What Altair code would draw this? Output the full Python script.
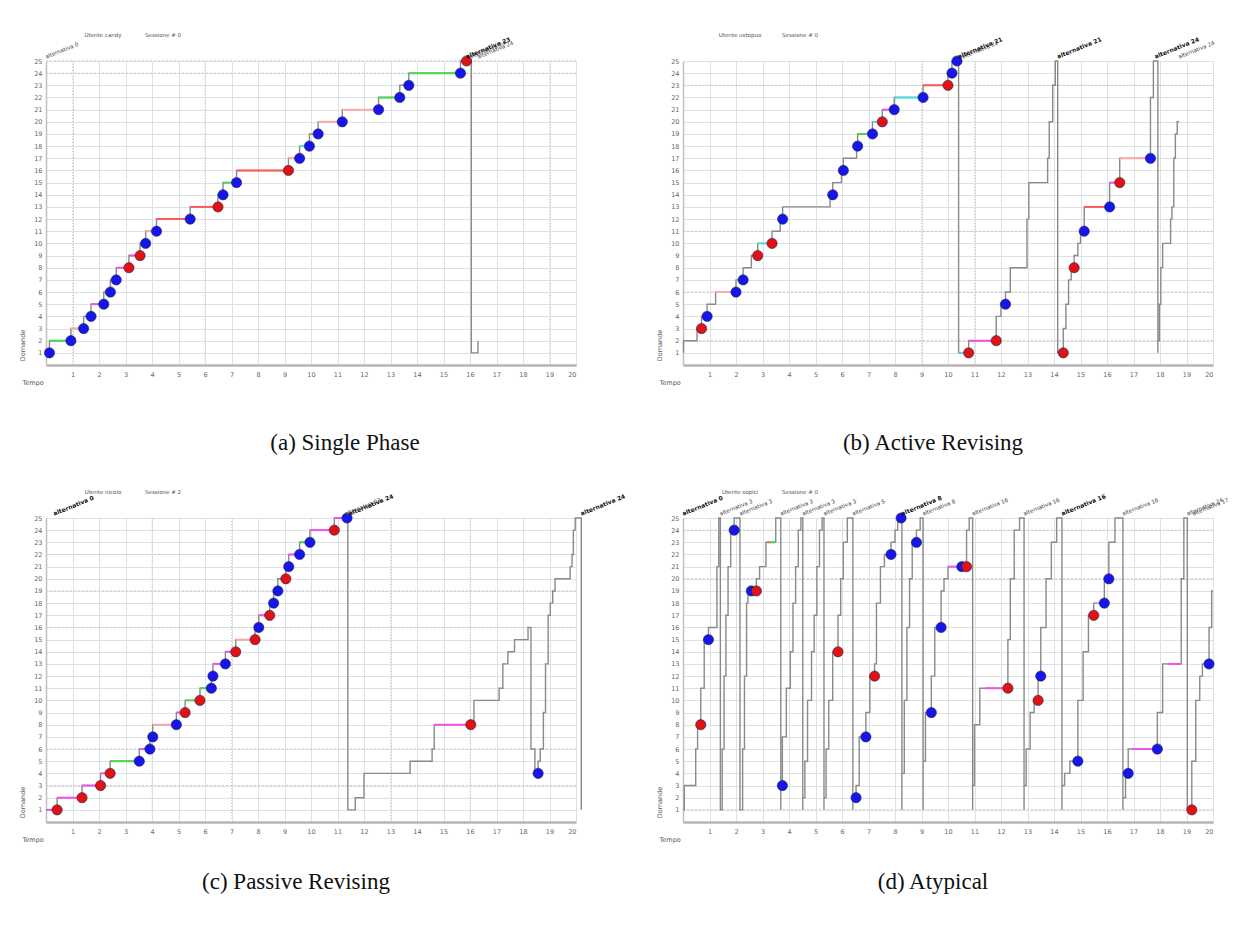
import altair as alt
import pandas as pd

X_TICKS = [1, 2, 3, 4, 5, 6, 7, 8, 9, 10, 11, 12, 13, 14, 15, 16, 17, 18, 19, 20]
Y_TICKS = [1, 2, 3, 4, 5, 6, 7, 8, 9, 10, 11, 12, 13, 14, 15, 16, 17, 18, 19, 20, 21, 22, 23, 24, 25]

# ---------------- (a) Single Phase ----------------
A_LINE_X = [0.13, 0.94, 1.42, 1.70, 2.18, 2.43, 2.65, 3.13, 3.55, 3.76, 4.17, 5.44, 6.49, 6.68, 7.19, 9.15, 9.57, 9.94,
            10.27, 11.18, 12.55, 13.35, 13.69, 15.64, 15.87, 16.05, 16.05, 16.30, 16.30]
A_LINE_Y = [1, 2, 3, 4, 5, 6, 7, 8, 9, 10, 11, 12, 13, 14, 15, 16, 17, 18, 19, 20, 21, 22, 23, 24, 25, 25, 1, 1, 2]
A_DOT_X = [0.13, 0.94, 1.42, 1.70, 2.18, 2.43, 2.65, 3.13, 3.55, 3.76, 4.17, 5.44, 6.49, 6.68, 7.19, 9.15, 9.57, 9.94,
           10.27, 11.18, 12.55, 13.35, 13.69, 15.64, 15.87]
A_DOT_Y = [1, 2, 3, 4, 5, 6, 7, 8, 9, 10, 11, 12, 13, 14, 15, 16, 17, 18, 19, 20, 21, 22, 23, 24, 25]
A_DOT_C = list("BBBBBBBRRBBBRBBRBBBBBBBBR")
A_SEG_X1 = [0.13, 0.94, 1.70, 2.65, 3.13, 3.76, 4.17, 5.44, 6.68, 7.19, 9.15, 9.57, 10.27, 11.18, 12.55, 13.69]
A_SEG_X2 = [0.94, 1.42, 2.18, 3.13, 3.55, 4.17, 5.44, 6.49, 7.19, 9.15, 9.57, 9.94, 11.18, 12.55, 13.35, 15.64]
A_SEG_Y = [2, 3, 5, 8, 9, 11, 12, 13, 15, 16, 17, 18, 20, 21, 22, 24]
A_SEG_C = ["g", "p", "m", "m", "m", "p", "r", "r", "g", "r", "p", "c", "p", "p", "g", "g"]
A_ALT_X = [0.0, 15.87, 16.0, 16.3]
A_ALT_T = ["alternativa 0", "alternativa 23", "alternativa 24", "alternativa 24"]
A_ALT_B = [False, True, False, False]
A_HDASH = [24, 25]
A_VDASH = [1, 6, 19]

# ---------------- (b) Active Revising ----------------
B_LINE_X = [0.02, 0.53, 0.70, 0.91, 1.23, 2.00, 2.27, 2.58, 2.82, 3.36, 3.67, 3.76, 5.55, 5.65, 5.98, 6.05, 6.55, 6.59,
            7.15, 7.52, 7.97, 9.06, 10.00, 10.15, 10.34, 10.40, 10.40, 10.78, 11.82, 12.00, 12.17, 12.35, 12.44, 12.98,
            13.05, 13.11, 13.76, 13.82, 13.95, 14.05, 14.14, 14.14, 14.35, 14.45, 14.55, 14.65, 14.76, 14.90, 15.00,
            15.14, 15.20, 16.10, 16.48, 17.64, 17.75, 17.82, 17.92, 17.92, 17.98, 18.03, 18.10, 18.15, 18.40, 18.45,
            18.52, 18.58, 18.65, 18.72]
B_LINE_Y = [1, 2, 3, 4, 5, 6, 7, 8, 9, 10, 11, 12, 13, 14, 15, 16, 17, 18, 19, 20, 21, 22, 23, 24, 25, 25, 1, 1, 2, 4,
            5, 6, 8, 8, 12, 15, 15, 17, 20, 23, 25, 1, 1, 3, 5, 7, 8, 9, 10, 11, 13, 13, 15, 17, 22, 25, 25, 1, 2, 5,
            8, 10, 10, 12, 13, 17, 19, 20]
B_DOT_X = [0.70, 0.91, 2.00, 2.27, 2.82, 3.36, 3.76, 5.65, 6.05, 6.59, 7.15, 7.52, 7.97, 9.06, 10.00, 10.15, 10.34,
           10.78, 11.82, 12.17, 14.35, 14.76, 15.14, 16.10, 16.48, 17.64]
B_DOT_Y = [3, 4, 6, 7, 9, 10, 12, 14, 16, 18, 19, 20, 21, 22, 23, 24, 25, 1, 2, 5, 1, 8, 11, 13, 15, 17]
B_DOT_C = list("RBBBRRBBBBBRBBRBBRRBRRBBRB")
B_SEG_X1 = [1.23, 2.82, 6.59, 7.15, 7.52, 7.97, 9.06, 10.40, 10.78, 15.14, 16.10, 16.48]
B_SEG_X2 = [2.00, 3.36, 7.15, 7.52, 7.97, 9.06, 10.00, 10.78, 11.82, 16.10, 16.48, 17.64]
B_SEG_Y = [6, 10, 19, 20, 21, 22, 23, 1, 2, 13, 15, 17]
B_SEG_C = ["p", "c", "g", "c", "m", "c", "r", "c", "m", "r", "m", "p"]
B_ALT_X = [10.40, 10.55, 14.14, 17.82, 18.72]
B_ALT_T = ["alternativa 21", "alternativa 22", "alternativa 21", "alternativa 24", "alternativa 24"]
B_ALT_B = [True, False, True, True, False]
B_HDASH = [2, 6, 11, 23]
B_VDASH = [9, 11]

# ---------------- (c) Passive Revising ----------------
C_LINE_X = [0.00, 0.42, 1.36, 2.06, 2.42, 3.52, 3.92, 4.03, 4.92, 5.25, 5.81, 6.24, 6.30, 6.77, 7.16, 7.89, 8.03, 8.44,
            8.59, 8.75, 9.05, 9.16, 9.57, 9.96, 10.88, 11.36, 11.39, 11.39, 11.67, 12.00, 13.74, 14.57, 14.65, 16.03,
            16.15, 17.10, 17.24, 17.43, 17.68, 18.19, 18.30, 18.45, 18.57, 18.65, 18.77, 18.85, 18.95, 19.03, 19.12,
            19.21, 19.78, 19.85, 19.90, 19.97, 20.16, 20.20, 20.20]
C_LINE_Y = [1, 1, 2, 3, 4, 5, 6, 7, 8, 9, 10, 11, 12, 13, 14, 15, 16, 17, 18, 19, 20, 21, 22, 23, 24, 25, 25, 1, 1, 2,
            4, 5, 6, 8, 8, 10, 11, 13, 14, 15, 16, 6, 4, 5, 6, 9, 13, 17, 18, 19, 20, 21, 22, 24, 25, 25, 1]
C_DOT_X = [0.42, 1.36, 2.06, 2.42, 3.52, 3.92, 4.03, 4.92, 5.25, 5.81, 6.24, 6.30, 6.77, 7.16, 7.89, 8.03, 8.44, 8.59,
           8.75, 9.05, 9.16, 9.57, 9.96, 10.88, 11.36, 16.03, 18.57]
C_DOT_Y = [1, 2, 3, 4, 5, 6, 7, 8, 9, 10, 11, 12, 13, 14, 15, 16, 17, 18, 19, 20, 21, 22, 23, 24, 25, 8, 4]
C_DOT_C = list("RRRRBBBBRRBBBRRBRBBRBBBRBRB")
C_SEG_X1 = [0.00, 0.42, 1.36, 2.06, 2.42, 3.52, 4.03, 4.92, 5.25, 5.81, 6.30, 6.77, 7.16, 8.03, 9.16, 9.57, 9.96,
            10.88, 14.65]
C_SEG_X2 = [0.42, 1.36, 2.06, 2.42, 3.52, 3.92, 4.92, 5.25, 5.81, 6.24, 6.77, 7.16, 7.89, 8.44, 9.57, 9.96, 10.88,
            11.36, 16.03]
C_SEG_Y = [1, 2, 3, 4, 5, 6, 8, 9, 10, 11, 13, 14, 15, 17, 22, 23, 24, 25, 8]
C_SEG_C = ["m", "m", "m", "m", "g", "m", "p", "m", "g", "g", "m", "m", "p", "m", "m", "g", "m", "m", "m"]
C_ALT_X = [0.30, 11.30, 11.45, 20.20]
C_ALT_T = ["alternativa 0", "alternativa 23", "alternativa 24", "alternativa 24"]
C_ALT_B = [True, False, True, True]
C_HDASH = [3, 6, 16, 19, 22]
C_VDASH = [4, 7, 13, 16]

# ---------------- (d) Atypical ----------------
D_LINE_X = [0.00, 0.05, 0.10, 0.48, 0.55, 0.67, 0.80, 0.96, 1.05, 1.28, 1.35, 1.41, 1.41,
            1.48, 1.55, 1.62, 1.70, 1.80, 1.93, 2.10, 2.15, 2.15,
            2.25, 2.32, 2.40, 2.45, 2.58, 2.77, 2.89, 3.13, 3.19, 3.50, 3.60, 3.69, 3.69,
            3.75, 3.90, 4.05, 4.15, 4.25, 4.35, 4.45, 4.52, 4.52,
            4.60, 4.70, 4.85, 4.95, 5.05, 5.15, 5.25, 5.32, 5.32,
            5.40, 5.50, 5.65, 5.85, 5.95, 6.05, 6.20, 6.35, 6.41, 6.41,
            6.53, 6.65, 6.90, 7.05, 7.23, 7.30, 7.45, 7.60, 7.85, 8.00, 8.10, 8.23, 8.26, 8.26,
            8.35, 8.45, 8.55, 8.65, 8.81, 8.95, 9.06, 9.06,
            9.15, 9.37, 9.50, 9.74, 9.85, 10.00, 10.52, 10.70, 10.80, 10.90, 10.93, 10.93,
            11.00, 11.20, 11.40, 12.26, 12.35, 12.50, 12.70, 12.85, 12.87, 12.87,
            12.95, 13.10, 13.25, 13.40, 13.50, 13.70, 13.90, 14.10, 14.25, 14.30, 14.30,
            14.40, 14.60, 14.90, 15.10, 15.30, 15.50, 15.90, 16.07, 16.30, 16.50, 16.60, 16.60,
            16.70, 16.80, 16.95, 17.90, 18.10, 18.30, 18.80, 18.90, 19.00, 19.03, 19.03,
            19.20, 19.35, 19.50, 19.60, 19.85, 19.95, 20.00]
D_LINE_Y = [1, 1, 3, 3, 6, 8, 11, 15, 16, 16, 21, 25, 1,
            1, 6, 12, 17, 21, 24, 25, 25, 1,
            1, 6, 12, 18, 19, 19, 20, 21, 23, 23, 25, 25, 1,
            3, 7, 11, 14, 18, 21, 24, 25, 1,
            2, 5, 10, 14, 17, 21, 24, 25, 1,
            2, 6, 10, 14, 17, 20, 23, 25, 25, 1,
            2, 3, 7, 9, 12, 13, 18, 21, 22, 23, 24, 25, 25, 1,
            4, 10, 16, 20, 23, 24, 25, 1,
            5, 9, 12, 16, 19, 20, 21, 21, 24, 25, 25, 1,
            3, 8, 11, 11, 15, 20, 24, 25, 25, 1,
            3, 6, 9, 10, 12, 16, 20, 23, 25, 25, 1,
            3, 4, 5, 10, 14, 17, 18, 20, 23, 25, 25, 1,
            2, 4, 6, 6, 9, 13, 13, 20, 25, 25, 1,
            1, 5, 10, 12, 13, 16, 19]
D_DOT_X = [0.67, 0.96, 1.93, 2.58, 2.77, 3.75, 5.85, 6.53, 6.90, 7.23, 7.85, 8.23, 8.81, 9.37, 9.74, 10.52, 10.70,
           12.26, 13.40, 13.50, 14.90, 15.50, 15.90, 16.07, 16.80, 17.90, 19.20, 19.85]
D_DOT_Y = [8, 15, 24, 19, 19, 3, 14, 2, 7, 12, 22, 25, 23, 9, 16, 21, 21, 11, 10, 12, 5, 17, 18, 20, 4, 6, 1, 13]
D_DOT_C = list("RBBBRBRBBRBBBBBBRRRBBRBBBBRB")
D_SEG_X1 = [3.19, 3.30, 10.00, 11.40, 13.25, 16.95, 18.30]
D_SEG_X2 = [3.30, 3.50, 10.52, 12.26, 13.40, 17.90, 18.80]
D_SEG_Y = [23, 23, 21, 11, 10, 6, 13]
D_SEG_C = ["r", "g", "m", "m", "m", "m", "m"]
D_ALT_X = [0.00, 1.41, 2.15, 3.69, 4.52, 5.32, 6.41, 8.26, 9.06, 10.93, 12.87, 14.30, 16.60, 19.03, 19.25]
D_ALT_T = ["alternativa 0", "alternativa 3", "alternativa 3", "alternativa 3", "alternativa 3", "alternativa 3",
           "alternativa 5", "alternativa 8", "alternativa 8", "alternativa 16", "alternativa 16", "alternativa 16",
           "alternativa 16", "alternativa 24", "alternativa 17"]
D_ALT_B = [True, False, False, False, False, False, False, True, False, False, False, True, False, False, False]
D_HDASH = [1, 20, 24]
D_VDASH = []

USERS = ["Utente candy", "Utente ustopuo", "Utente nicolo", "Utente sopici"]
SESSIONS = ["Sessione # 0", "Sessione # 0", "Sessione # 2", "Sessione # 0"]
CAPTIONS = ["(a) Single Phase", "(b) Active Revising", "(c) Passive Revising", "(d) Atypical"]
CAPTION_DX = [34, -15, -15, -15]
CAPTION_OFFSET = [46, 46, 28, 28]

SEG_DOMAIN = ["g", "m", "r", "c", "p"]
SEG_RANGE = ["#4cd84c", "#ee55ee", "#ff5a5a", "#4fdede", "#ffaaaa"]
DOT_DOMAIN = ["B", "R"]
DOT_RANGE = ["#1616e8", "#e01212"]

W, H = 530, 304


def panel(lx, ly, dx, dy, dc, s1, s2, sy, sc, ax, at, ab, hd, vd, user, sess, cap, cap_dx, cap_off):
    xs = alt.Scale(domain=[0, 20], nice=False, zero=False)
    ys = alt.Scale(domain=[0, 25], nice=False, zero=False)
    x_axis = alt.Axis(values=X_TICKS, title="Tempo", grid=True, gridColor="#dde1e5", gridWidth=1,
                      ticks=False, labelFontSize=6.5, labelColor="#666", labelPadding=6, labelFont="DejaVu Sans",
                      domainColor="#b5b5b5", domainWidth=2.5, titleFontSize=6.5, titleFontWeight="normal",
                      titleColor="#555", titleFont="DejaVu Sans", titleX=-24, titleY=14, titleAlign="left",
                      titleBaseline="top")
    y_axis = alt.Axis(values=Y_TICKS, title="Domande", grid=True, gridColor="#dde1e5", gridWidth=1,
                      ticks=False, labelFontSize=6.5, labelColor="#666", labelPadding=4, labelFont="DejaVu Sans",
                      domainColor="#c0c0c0", domainWidth=1.5, titleFontSize=6.5, titleFontWeight="normal",
                      titleColor="#555", titleFont="DejaVu Sans", titleX=-21, titleY=284, titleAngle=270,
                      titleAlign="center", titleBaseline="bottom")

    def X(field):
        return alt.X(field, scale=xs, axis=x_axis)

    def Y(field):
        return alt.Y(field, scale=ys, axis=y_axis)

    line_df = pd.DataFrame({"x": lx, "y": ly, "i": list(range(len(lx)))})
    layers = []
    layers.append(
        alt.Chart(line_df).mark_line(interpolate="step-before", color="#8a8a8a", strokeWidth=1.4).encode(
            x=X("x:Q"), y=Y("y:Q"), order=alt.Order("i:Q"),
        )
    )
    if hd:
        layers.insert(0, alt.Chart(pd.DataFrame({"y": hd})).mark_rule(
            color="#c9cdd1", strokeDash=[2, 2], strokeWidth=1).encode(y=Y("y:Q")))
    if vd:
        layers.insert(0, alt.Chart(pd.DataFrame({"x": vd})).mark_rule(
            color="#c9cdd1", strokeDash=[1, 2], strokeWidth=1).encode(x=X("x:Q")))

    seg_df = pd.DataFrame({"x1": s1, "x2": s2, "y": sy, "c": sc})
    layers.append(
        alt.Chart(seg_df).mark_rule(strokeWidth=2).encode(
            x=X("x1:Q"), x2="x2:Q", y=Y("y:Q"),
            color=alt.Color("c:N", scale=alt.Scale(domain=SEG_DOMAIN, range=SEG_RANGE), legend=None),
        )
    )
    dot_df = pd.DataFrame({"x": dx, "y": dy, "c": dc})
    layers.append(
        alt.Chart(dot_df).mark_point(filled=True, size=105, opacity=1, strokeWidth=0.6, stroke="#202060").encode(
            x=X("x:Q"), y=Y("y:Q"),
            fill=alt.Fill("c:N", scale=alt.Scale(domain=DOT_DOMAIN, range=DOT_RANGE), legend=None),
        )
    )
    lab_df = pd.DataFrame({"x": ax, "y": [25] * len(ax), "t": at, "b": ab})
    for bold in (False, True):
        sub = lab_df[lab_df["b"] == bold]
        if len(sub) == 0:
            continue
        layers.append(
            alt.Chart(sub).mark_text(align="left", baseline="bottom", angle=338, fontSize=5.5 if not bold else 6,
                                     fontWeight="bold" if bold else "normal",
                                     color="#111" if bold else "#444", dx=1, dy=-1, font="DejaVu Sans").encode(
                x=X("x:Q"), y=Y("y:Q"), text="t:N",
            )
        )
    layers.append(
        alt.Chart(pd.DataFrame({"t": [user]})).mark_text(fontSize=5.5, color="#555", font="DejaVu Sans").encode(
            text="t:N", x=alt.value(57), y=alt.value(-26))
    )
    layers.append(
        alt.Chart(pd.DataFrame({"t": [sess]})).mark_text(fontSize=5.5, color="#555", font="DejaVu Sans").encode(
            text="t:N", x=alt.value(117), y=alt.value(-26))
    )
    return alt.layer(*layers).properties(
        width=W, height=H,
        title=alt.TitleParams(text=cap, orient="bottom", anchor="middle", frame="group", font="Liberation Serif",
                              fontSize=23, fontWeight="normal", color="#111", offset=cap_off, dx=cap_dx),
    )


pa = panel(A_LINE_X, A_LINE_Y, A_DOT_X, A_DOT_Y, A_DOT_C, A_SEG_X1, A_SEG_X2, A_SEG_Y, A_SEG_C,
           A_ALT_X, A_ALT_T, A_ALT_B, A_HDASH, A_VDASH, USERS[0], SESSIONS[0], CAPTIONS[0], CAPTION_DX[0],
           CAPTION_OFFSET[0])
pb = panel(B_LINE_X, B_LINE_Y, B_DOT_X, B_DOT_Y, B_DOT_C, B_SEG_X1, B_SEG_X2, B_SEG_Y, B_SEG_C,
           B_ALT_X, B_ALT_T, B_ALT_B, B_HDASH, B_VDASH, USERS[1], SESSIONS[1], CAPTIONS[1], CAPTION_DX[1],
           CAPTION_OFFSET[1])
pc = panel(C_LINE_X, C_LINE_Y, C_DOT_X, C_DOT_Y, C_DOT_C, C_SEG_X1, C_SEG_X2, C_SEG_Y, C_SEG_C,
           C_ALT_X, C_ALT_T, C_ALT_B, C_HDASH, C_VDASH, USERS[2], SESSIONS[2], CAPTIONS[2], CAPTION_DX[2],
           CAPTION_OFFSET[2])
pdd = panel(D_LINE_X, D_LINE_Y, D_DOT_X, D_DOT_Y, D_DOT_C, D_SEG_X1, D_SEG_X2, D_SEG_Y, D_SEG_C,
            D_ALT_X, D_ALT_T, D_ALT_B, D_HDASH, D_VDASH, USERS[3], SESSIONS[3], CAPTIONS[3], CAPTION_DX[3],
            CAPTION_OFFSET[3])

chart = alt.concat(
    pa, pb, pc, pdd, columns=2, spacing={"row": 153, "column": 107}, bounds="flush",
    padding={"left": 10, "top": 24, "right": 5, "bottom": 5},
).configure_view(stroke=None).configure(background="white")

chart.save("out.html", embed_options={"renderer": "svg", "actions": False})
